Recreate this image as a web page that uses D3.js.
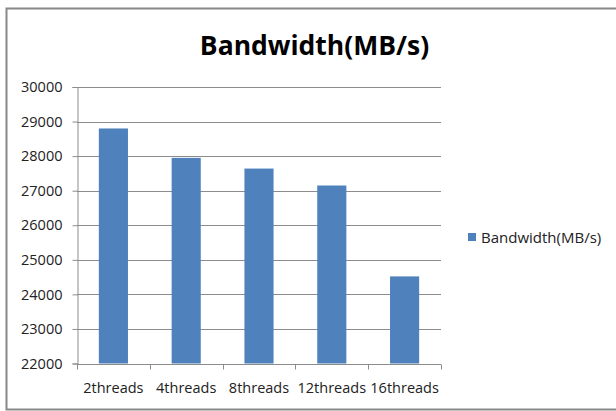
<!DOCTYPE html>
<html><head><meta charset="utf-8">
<script src="https://cdn.jsdelivr.net/npm/d3@7"></script>
<style>body{margin:0;background:#fff;}svg{display:block;}</style>
</head><body>
<script>
const categories = ["2threads","4threads","8threads","12threads","16threads"];
const values = [28800, 27950, 27640, 27150, 24520];
const yTicks = [22000,23000,24000,25000,26000,27000,28000,29000,30000];
const seriesName = "Bandwidth(MB/s)";
const titleText = "Bandwidth(MB/s)";

const W = 616, H = 411;
const font = "'Open Sans', 'Liberation Sans', sans-serif";
const svg = d3.select("body").append("svg").attr("width", W).attr("height", H);
svg.append("rect").attr("x",6.5).attr("y",8.5).attr("width",W+10).attr("height",401)
  .attr("fill","#fff").attr("stroke","#888").attr("stroke-width",2);

const plot = {l:77, r:441, t:87, b:363.5};
const x = d3.scaleBand().domain(categories).range([plot.l, plot.r]).paddingInner(0.6).paddingOuter(0.3);
const y = d3.scaleLinear().domain([22000,30000]).range([plot.b, plot.t]);

// gridlines
svg.append("g").selectAll("line").data(yTicks.slice(1)).join("line")
  .attr("x1", plot.l).attr("x2", plot.r)
  .attr("y1", d=>Math.round(y(d))+0.5).attr("y2", d=>Math.round(y(d))+0.5)
  .attr("stroke","#8c8c8c").attr("stroke-width",1);

// bars
svg.append("g").selectAll("rect").data(values).join("rect")
  .attr("x",(d,i)=>x(categories[i])).attr("width",x.bandwidth())
  .attr("y",d=>y(d)).attr("height",d=>y(22000)-y(d))
  .attr("fill","#4f81bd");

// y axis
const yAxis = d3.axisLeft(y).tickValues(yTicks).tickSize(5).tickPadding(10).tickFormat(d3.format("d"));
const gy = svg.append("g").attr("transform",`translate(${plot.l+0.5},0)`).call(yAxis);
gy.select(".domain").attr("stroke","#8c8c8c");
gy.selectAll(".tick line").attr("stroke","#8c8c8c");
gy.selectAll(".tick text").attr("font-family",font).attr("font-size",14.5).attr("fill","#222");

// x axis
const bounds = d3.range(categories.length+1).map(i=>plot.l + i*(plot.r-plot.l)/categories.length);
const gx = svg.append("g");
gx.append("line").attr("x1",plot.l).attr("x2",plot.r).attr("y1",Math.round(plot.b)+0.5).attr("y2",Math.round(plot.b)+0.5).attr("stroke","#8c8c8c");
gx.selectAll("line.t").data(bounds).join("line").attr("class","t")
  .attr("x1",d=>Math.round(d)+0.5).attr("x2",d=>Math.round(d)+0.5)
  .attr("y1",Math.round(plot.b)+0.5).attr("y2",Math.round(plot.b)+5.5).attr("stroke","#8c8c8c");
gx.selectAll("text").data(categories).join("text")
  .attr("x",d=>x(d)+x.bandwidth()/2).attr("y",393)
  .attr("text-anchor","middle").attr("font-family",font).attr("font-size",14.5).attr("fill","#222")
  .text(d=>d);

// title
svg.append("text").attr("x",314.5).attr("y",55).attr("text-anchor","middle")
  .attr("font-family",font).attr("font-weight","bold").attr("font-size",26.5).attr("fill","#000")
  .text(titleText);

// legend
svg.append("rect").attr("x",468).attr("y",233).attr("width",8).attr("height",8).attr("fill","#4f81bd");
svg.append("text").attr("x",481).attr("y",243).attr("font-family",font).attr("font-size",15).attr("fill","#222").text(seriesName);
</script>
</body></html>
